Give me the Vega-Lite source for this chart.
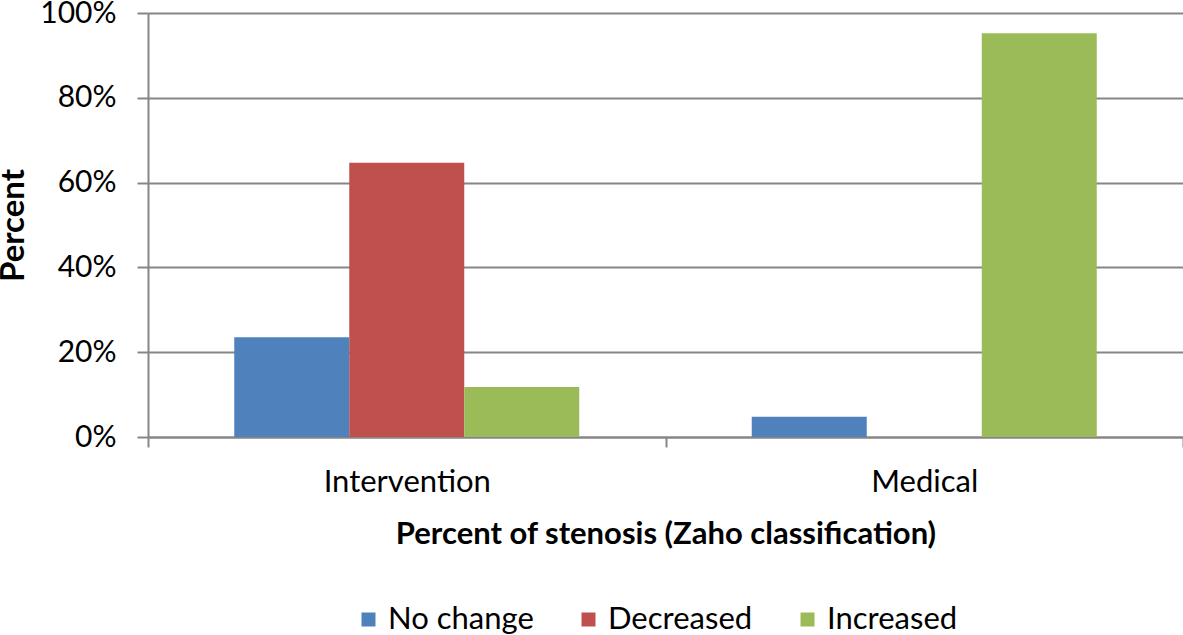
{
  "$schema": "https://vega.github.io/schema/vega-lite/v6.json",
  "width": 1035,
  "height": 424,
  "autosize": {"type": "none"},
  "padding": {"left": 148, "top": 13, "right": 0, "bottom": 198},
  "background": "white",
  "config": {
    "view": {"stroke": null},
    "font": "Lato"
  },
  "data": {
    "values": [
      {"group": "Intervention", "change": "No change", "percent": 0.235},
      {"group": "Intervention", "change": "Decreased", "percent": 0.647},
      {"group": "Intervention", "change": "Increased", "percent": 0.118},
      {"group": "Medical", "change": "No change", "percent": 0.048},
      {"group": "Medical", "change": "Decreased", "percent": 0.0},
      {"group": "Medical", "change": "Increased", "percent": 0.952}
    ]
  },
  "mark": {"type": "bar"},
  "encoding": {
    "x": {
      "field": "group",
      "type": "nominal",
      "scale": {"paddingInner": 0, "paddingOuter": 0},
      "axis": {
        "title": "Percent of stenosis (Zaho classification)",
        "titleFontSize": 31,
        "titleFontWeight": "bold",
        "titleColor": "black",
        "titlePadding": 22,
        "labelAngle": 0,
        "labelFontSize": 31,
        "labelColor": "black",
        "labelPadding": 20,
        "tickBand": "extent",
        "tickSize": 10,
        "tickColor": "#868686",
        "tickWidth": 2,
        "domainColor": "#868686",
        "domainWidth": 2
      }
    },
    "xOffset": {
      "field": "change",
      "type": "nominal",
      "sort": ["No change", "Decreased", "Increased"],
      "scale": {"paddingInner": 0, "paddingOuter": 0.75}
    },
    "y": {
      "field": "percent",
      "type": "quantitative",
      "scale": {"domain": [0, 1]},
      "axis": {
        "title": "Percent",
        "titleFontSize": 33,
        "titleFontWeight": "bold",
        "titleColor": "black",
        "titlePadding": 9,
        "format": ".0%",
        "values": [0, 0.2, 0.4, 0.6, 0.8, 1],
        "labelFontSize": 30,
        "labelColor": "black",
        "labelPadding": 21,
        "tickSize": 11,
        "tickColor": "#868686",
        "tickWidth": 2,
        "domainColor": "#868686",
        "domainWidth": 2,
        "gridColor": "#868686",
        "gridWidth": 2
      }
    },
    "color": {
      "field": "change",
      "type": "nominal",
      "sort": ["No change", "Decreased", "Increased"],
      "scale": {
        "domain": ["No change", "Decreased", "Increased"],
        "range": ["#4F81BD", "#C0504D", "#9BBB59"]
      },
      "legend": {
        "title": null,
        "orient": "none",
        "direction": "horizontal",
        "gridAlign": "none",
        "legendX": 205,
        "legendY": 591,
        "padding": 0,
        "symbolType": "square",
        "symbolSize": 196,
        "symbolStrokeWidth": 0,
        "symbolOpacity": 1,
        "labelFontSize": 31,
        "labelColor": "black",
        "labelOffset": 4,
        "columnPadding": 39
      }
    }
  }
}
